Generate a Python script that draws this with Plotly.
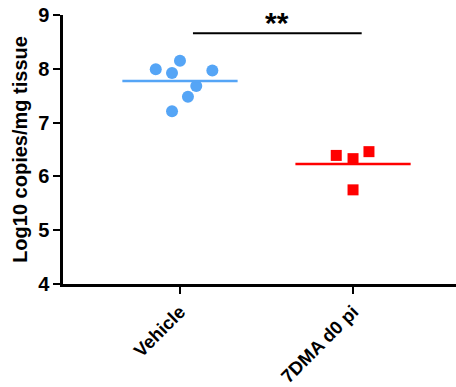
import plotly.graph_objects as go

categories = ["Vehicle", "7DMA d0 pi"]
vehicle_vals = [7.99, 8.15, 7.92, 7.97, 7.68, 7.48, 7.21]
vehicle_jit = [-0.14, 0.0, -0.046, 0.187, 0.094, 0.046, -0.046]
dma_vals = [6.39, 6.33, 6.46, 5.75]
dma_jit = [-0.097, 0.0, 0.092, 0.0]
means = [sum(vehicle_vals) / len(vehicle_vals), sum(dma_vals) / len(dma_vals)]
y_ticks = [4, 5, 6, 7, 8, 9]
sig_text = "**"
sig_y = 8.66

blue = "#55A5F6"
red = "#FF0000"
font = "Liberation Sans, Arial, sans-serif"

fig = go.Figure()
fig.add_trace(go.Scatter(x=[0 + j for j in vehicle_jit], y=vehicle_vals, mode="markers",
                         marker=dict(symbol="circle", size=12, color=blue), showlegend=False))
fig.add_trace(go.Scatter(x=[1 + j for j in dma_jit], y=dma_vals, mode="markers",
                         marker=dict(symbol="square", size=11, color=red), showlegend=False))
hw = 0.333
for i, (m, c) in enumerate(zip(means, [blue, red])):
    fig.add_trace(go.Scatter(x=[i - hw, i + hw], y=[m, m], mode="lines",
                             line=dict(color=c, width=2.5), showlegend=False))
fig.add_trace(go.Scatter(x=[0.075, 1.05], y=[sig_y, sig_y], mode="lines",
                         line=dict(color="black", width=2), showlegend=False))
fig.add_annotation(x=0.5625, y=sig_y, text=sig_text, showarrow=False, yanchor="bottom",
                   yshift=-8, font=dict(family=font, size=30, color="black", weight="bold"))

fig.update_layout(
    width=456, height=387,
    margin=dict(l=63, r=0, t=15, b=103),
    plot_bgcolor="white", paper_bgcolor="white",
    xaxis=dict(range=[-0.676, 1.595], tickvals=[0, 1], ticktext=categories,
               tickangle=-45, showgrid=False, zeroline=False, automargin=False,
               showline=True, linecolor="black", linewidth=2.5,
               ticks="outside", ticklen=7, tickwidth=2, tickcolor="black",
               tickfont=dict(family=font, size=18.5, color="black", weight="bold")),
    yaxis=dict(range=[4, 9], tickvals=y_ticks, showgrid=False, zeroline=False, automargin=False,
               showline=True, linecolor="black", linewidth=2.5,
               ticks="outside", ticklen=7, tickwidth=2, tickcolor="black",
               tickfont=dict(family=font, size=20, color="black", weight="bold"),
               title=dict(text="Log10 copies/mg tissue", standoff=6,
                          font=dict(family=font, size=20, color="black", weight="bold"))),
)

fig.write_html("out.html", config={"displayModeBar": False},
               post_script="document.body.style.margin='0';document.body.style.overflow='hidden';")
